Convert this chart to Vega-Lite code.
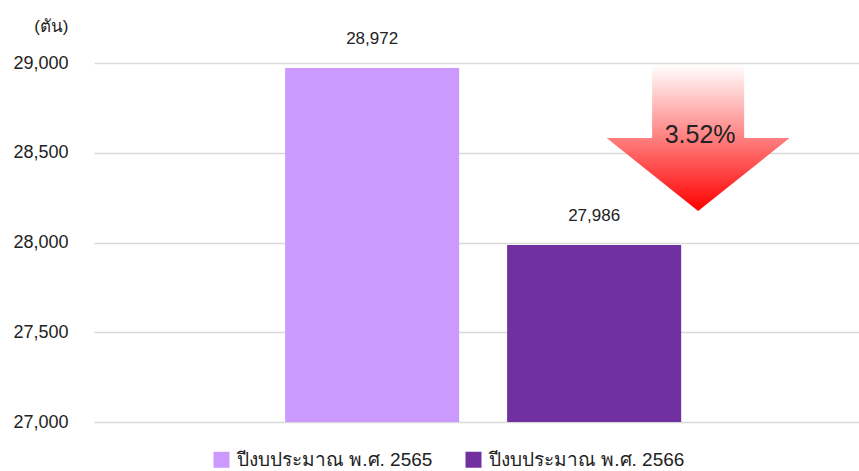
{
  "$schema": "https://vega.github.io/schema/vega-lite/v6.json",
  "width": 765,
  "height": 359,
  "autosize": {"type": "none"},
  "padding": {"left": 94, "top": 63, "right": 0, "bottom": 49},
  "background": "white",
  "config": {
    "view": {"stroke": null},
    "font": "Liberation Sans",
    "axis": {"labelFont": "Liberation Sans", "titleFont": "Liberation Sans"},
    "legend": {"labelFont": "Liberation Sans"}
  },
  "datasets": {
    "bars": [
      {"series": "ปีงบประมาณ  พ.ศ. 2565", "value": 28972},
      {"series": "ปีงบประมาณ  พ.ศ. 2566", "value": 27986}
    ],
    "change": [
      {"series": "ปีงบประมาณ  พ.ศ. 2566", "from": 28972, "pct": "3.52%"}
    ]
  },
  "layer": [
    {
      "data": {"name": "bars"},
      "mark": {"type": "bar"},
      "encoding": {
        "x": {
          "field": "series", "type": "nominal", "sort": null,
          "scale": {"paddingInner": 0.216, "paddingOuter": 0.831, "align": 0.518},
          "axis": null
        },
        "y": {
          "field": "value", "type": "quantitative",
          "scale": {"domain": [27000, 29000], "zero": false, "nice": false},
          "axis": {
            "values": [27000, 27500, 28000, 28500, 29000],
            "labelExpr": "format(datum.value, ',.0f')",
            "domain": false, "ticks": false,
            "labelFontSize": 18, "labelColor": "#222222", "labelPadding": 26,
            "gridColor": "#d9d9d9", "gridWidth": 1.5,
            "title": "(ตัน)", "titleAngle": 0, "titleX": -26, "titleY": -37,
            "titleAlign": "right", "titleBaseline": "middle",
            "titleFontSize": 17, "titleFontWeight": "normal", "titleColor": "#222222"
          }
        },
        "y2": {"datum": 27000},
        "color": {
          "field": "series", "type": "nominal",
          "scale": {"domain": ["ปีงบประมาณ  พ.ศ. 2565", "ปีงบประมาณ  พ.ศ. 2566"], "range": ["#CC99FF", "#7030A0"]},
          "legend": {
            "title": null, "orient": "none", "direction": "horizontal",
            "legendX": 118, "legendY": 387, "padding": 0,
            "symbolType": "square", "symbolSize": 256, "symbolStrokeWidth": 0,
            "labelFontSize": 19, "labelColor": "#222222", "labelOffset": 6,
            "labelLimit": 400, "columnPadding": 26
          }
        }
      }
    },
    {
      "data": {"name": "bars"},
      "mark": {"type": "text", "dy": -29, "fontSize": 17, "color": "#222222"},
      "encoding": {
        "x": {"field": "series", "type": "nominal", "sort": null},
        "y": {"field": "value", "type": "quantitative"},
        "text": {"field": "value", "type": "quantitative", "format": ",.0f"}
      }
    },
    {
      "data": {"name": "change"},
      "mark": {
        "type": "point",
        "shape": "M -0.503 -0.798 L 0.503 -0.798 L 0.503 0 L 1 0 L 0 0.798 L -1 0 L -0.503 0 Z",
        "size": 33489,
        "filled": true,
        "opacity": 1,
        "strokeWidth": 0,
        "xOffset": 104,
        "yOffset": 70,
        "fill": {
          "gradient": "linear", "x1": 0, "y1": 0, "x2": 0, "y2": 1,
          "stops": [{"offset": 0, "color": "#ffffff"}, {"offset": 1, "color": "#ff0000"}]
        }
      },
      "encoding": {
        "x": {"field": "series", "type": "nominal", "sort": null},
        "y": {"field": "from", "type": "quantitative"}
      }
    },
    {
      "data": {"name": "change"},
      "mark": {"type": "text", "fontSize": 25, "color": "#222222", "xOffset": 106, "yOffset": 67},
      "encoding": {
        "x": {"field": "series", "type": "nominal", "sort": null},
        "y": {"field": "from", "type": "quantitative"},
        "text": {"field": "pct", "type": "nominal"}
      }
    }
  ]
}
